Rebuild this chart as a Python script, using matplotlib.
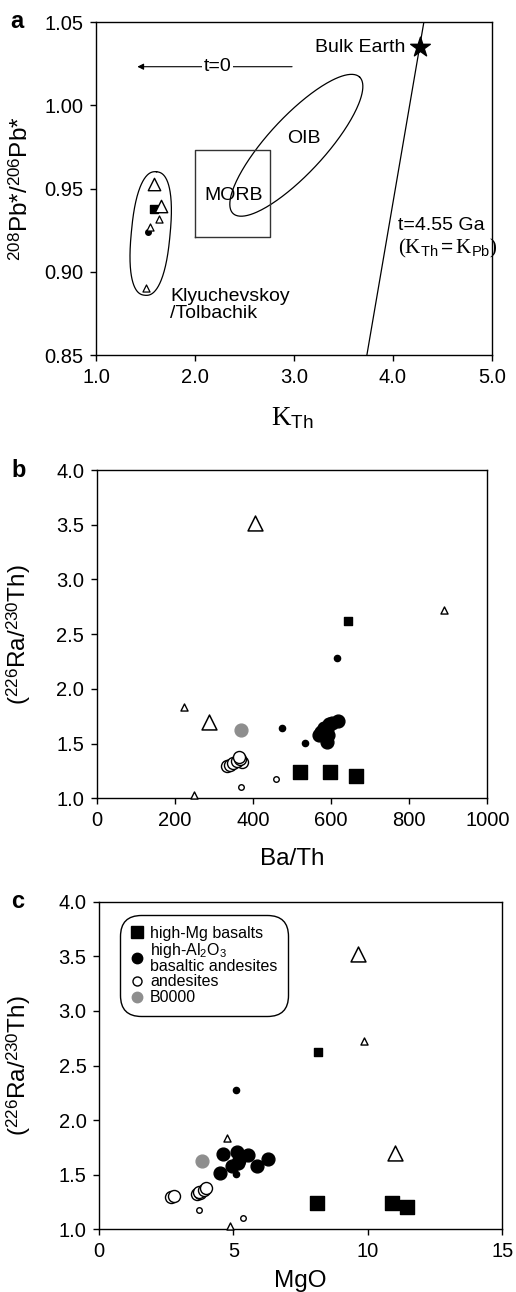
import numpy as np
import matplotlib
matplotlib.use("Agg")
from matplotlib import pyplot as plt
from matplotlib.lines import Line2D

plt.rcParams['font.family'] = ['Liberation Sans', 'DejaVu Sans']
plt.rcParams['mathtext.fontset'] = 'custom'
plt.rcParams['mathtext.rm'] = 'Liberation Serif'
plt.rcParams['mathtext.sf'] = 'Liberation Sans'
plt.rcParams['mathtext.it'] = 'Liberation Serif:italic'
plt.rcParams['mathtext.bf'] = 'Liberation Serif:bold'

# ---- panel a data ----
a_tri_big_x = [1.59, 1.656]
a_tri_big_y = [0.9525, 0.9395]
a_tri_small_x = [1.632, 1.542, 1.505]
a_tri_small_y = [0.9315, 0.927, 0.890]
a_sq_x = [1.59]
a_sq_y = [0.938]
a_dot_x = [1.525]
a_dot_y = [0.9237]
bulk_earth = (4.277, 1.035)
geochron_x = [3.738, 4.314]
geochron_y = [0.85, 1.05]
morb_box = (2.0, 2.76, 0.921, 0.973)

# ---- panels b and c data (Ba/Th, MgO, Ra/Th) ----
hmg_bath = [520, 597, 664]
hmg_mgo = [8.09, 10.88, 11.47]
hmg_ra = [1.242, 1.238, 1.202]
hmg_s_bath = [644]
hmg_s_mgo = [8.16]
hmg_s_ra = [2.62]

hal_bath = [617, 603, 595, 583, 590, 575, 570, 592, 590]
hal_mgo = [5.12, 4.62, 5.55, 6.30, 5.22, 5.18, 4.93, 5.89, 4.50]
hal_ra = [1.710, 1.689, 1.680, 1.641, 1.634, 1.605, 1.580, 1.580, 1.513]
hal_s_bath = [616, 475, 532]
hal_s_mgo = [5.09, 5.25, 5.09]
hal_s_ra = [2.279, 1.646, 1.503]

and_bath = [333, 340, 350, 372, 360, 368, 365]
and_mgo = [2.67, 2.79, 3.63, 3.75, 3.73, 3.90, 3.98]
and_ra = [1.299, 1.308, 1.320, 1.330, 1.345, 1.360, 1.375]
and_s_bath = [460, 369.5]
and_s_mgo = [3.72, 5.37]
and_s_ra = [1.177, 1.105]

b0_bath = [369.5]
b0_mgo = [3.82]
b0_ra = [1.628]

tri_bath = [405, 288]
tri_mgo = [9.64, 11.01]
tri_ra = [3.52, 1.697]
tri_s_bath = [890, 223.5, 249]
tri_s_mgo = [9.85, 4.77, 4.87]
tri_s_ra = [2.72, 1.838, 1.03]

gray = '#8e8e8e'
TICK = 14.5
LAB = 17.5

fig = plt.figure(figsize=(5.16, 12.92), dpi=100)
ax1 = fig.add_axes([0.186, 0.7252, 0.767, 0.2577])
ax2 = fig.add_axes([0.1874, 0.3821, 0.757, 0.2541])
ax3 = fig.add_axes([0.1919, 0.0485, 0.7816, 0.2536])

for ax in (ax1, ax2, ax3):
    ax.tick_params(direction='out', length=4, width=1, labelsize=TICK, pad=5)
    for s in ax.spines.values():
        s.set_linewidth(1)

# ---------- a ----------
ax1.set_xlim(1, 5)
ax1.set_ylim(0.85, 1.05)
ax1.set_xticks(np.arange(1, 5.01, 1.0))
ax1.set_xticklabels(['%.1f' % v for v in np.arange(1, 5.01, 1.0)])
ax1.set_yticks(np.arange(0.85, 1.0501, 0.05))
ax1.set_yticklabels(['%.2f' % v for v in np.arange(0.85, 1.0501, 0.05)])

# Kly/Tol field (rounded elongated shape)
t = np.linspace(0, 2 * np.pi, 300)
n = 2.4
c = np.cos(t); s = np.sin(t)
cu = np.sign(c) * np.abs(c) ** (2 / n)
sv = np.sign(s) * np.abs(s) ** (2 / n)
kx = 1.553 + 0.059 * cu + 0.195 * sv
ky = 0.923 + 0.0371 * cu - 0.0011 * sv
ax1.plot(kx, ky, color='k', lw=0.9)

# OIB ellipse
ox = 3.025 + 0.639 * c + 0.209 * s
oy = 0.976 + 0.041 * c - 0.0116 * s
ax1.plot(ox, oy, color='k', lw=0.9)

x0, x1, y0, y1 = morb_box
ax1.plot([x0, x1, x1, x0, x0], [y0, y0, y1, y1, y0], color='#333333', lw=1)

ax1.plot(geochron_x, geochron_y, color='k', lw=0.9)

ax1.scatter(a_sq_x, a_sq_y, marker='s', s=26, color='k', zorder=3)
ax1.scatter(a_dot_x, a_dot_y, marker='o', s=16, color='k', zorder=3)
ax1.scatter(a_tri_small_x, a_tri_small_y, marker='^', s=26, facecolor='white', edgecolor='k', lw=0.9, zorder=4)
ax1.scatter(a_tri_big_x, a_tri_big_y, marker='^', s=80, facecolor='white', edgecolor='k', lw=1.0, zorder=4)
ax1.scatter([bulk_earth[0]], [bulk_earth[1]], marker='*', s=220, color='k', zorder=5)

ax1.annotate('', xy=(1.39, 1.0232), xytext=(3.01, 1.0232),
             arrowprops=dict(arrowstyle='-|>', lw=0.8, color='k', mutation_scale=9))
ax1.text(2.23, 1.0232, 't=0', fontsize=14, ha='center', va='center',
         bbox=dict(facecolor='white', edgecolor='none', pad=1))
ax1.text(3.21, 1.035, 'Bulk Earth', fontsize=14, ha='left', va='center')
ax1.text(3.10, 0.980, 'OIB', fontsize=14, ha='center', va='center')
ax1.text(2.39, 0.946, 'MORB', fontsize=14, ha='center', va='center')
ax1.text(1.747, 0.880, 'Klyuchevskoy\n/Tolbachik', fontsize=14, ha='left', va='center',
         linespacing=0.95)
ax1.text(4.05, 0.928, 't=4.55 Ga', fontsize=14, ha='left', va='center')
ax1.text(4.05, 0.914, r'$(\mathrm{K}_{\mathsf{Th}}\mathsf{=}\mathrm{K}_{\mathsf{Pb}})$', fontsize=15,
         ha='left', va='center')

ax1.set_xlabel(r'$\mathrm{K}_{\mathsf{Th}}$', fontsize=LAB + 2)
ax1.xaxis.set_label_coords(0.497, -0.15)
ax1.set_ylabel(r'$^{\mathsf{208}}$Pb*/$^{\mathsf{206}}$Pb*', fontsize=LAB)
ax1.yaxis.set_label_coords(-0.159, 0.5)


def draw_groups(ax, key):
    d = {'b': (hmg_bath, hmg_s_bath, hal_bath, hal_s_bath, and_bath, and_s_bath, b0_bath, tri_bath, tri_s_bath),
         'c': (hmg_mgo, hmg_s_mgo, hal_mgo, hal_s_mgo, and_mgo, and_s_mgo, b0_mgo, tri_mgo, tri_s_mgo)}[key]
    hx, hsx, ax_, asx, nx, nsx, bx, tx, tsx = d
    kw = dict(clip_on=False)
    ax.scatter(tx, tri_ra, marker='^', s=115, facecolor='white', edgecolor='k', lw=1.1, zorder=3, **kw)
    ax.scatter(tsx, tri_s_ra, marker='^', s=26, facecolor='white', edgecolor='k', lw=1.0, zorder=3, **kw)
    ax.scatter(hx, hmg_ra, marker='s', s=100, color='k', zorder=3, **kw)
    ax.scatter(hsx, hmg_s_ra, marker='s', s=26, color='k', zorder=3, **kw)
    ax.scatter(nx, and_ra, marker='o', s=75, facecolor='white', edgecolor='k', lw=1.0, zorder=3, **kw)
    ax.scatter(nsx, and_s_ra, marker='o', s=16, facecolor='white', edgecolor='k', lw=1.0, zorder=3, **kw)
    ax.scatter(asx, hal_s_ra, marker='o', s=20, color='k', zorder=3, **kw)
    ax.scatter(ax_, hal_ra, marker='o', s=85, color='k', zorder=3, **kw)
    ax.scatter(bx, b0_ra, marker='o', s=85, color=gray, zorder=3, **kw)


# ---------- b ----------
ax2.set_xlim(0, 1000)
ax2.set_ylim(1.0, 4.0)
ax2.set_xticks(np.arange(0, 1001, 200))
ax2.set_yticks(np.arange(1.0, 4.01, 0.5))
ax2.set_yticklabels(['%.1f' % v for v in np.arange(1.0, 4.01, 0.5)])
draw_groups(ax2, 'b')
ax2.set_xlabel('Ba/Th', fontsize=LAB)
ax2.xaxis.set_label_coords(0.5, -0.151)
ax2.set_ylabel(r'($^{\mathsf{226}}$Ra/$^{\mathsf{230}}$Th)', fontsize=LAB)
ax2.yaxis.set_label_coords(-0.163, 0.5)

# ---------- c ----------
ax3.set_xlim(0, 15)
ax3.set_ylim(1.0, 4.0)
ax3.set_xticks([0, 5, 10, 15])
ax3.set_yticks(np.arange(1.0, 4.01, 0.5))
ax3.set_yticklabels(['%.1f' % v for v in np.arange(1.0, 4.01, 0.5)])
draw_groups(ax3, 'c')
ax3.set_xlabel('MgO', fontsize=LAB)
ax3.xaxis.set_label_coords(0.5, -0.124)
ax3.set_ylabel(r'($^{\mathsf{226}}$Ra/$^{\mathsf{230}}$Th)', fontsize=LAB)
ax3.yaxis.set_label_coords(-0.164, 0.5)

handles = [
    Line2D([], [], marker='s', ls='none', color='k', markersize=8),
    Line2D([], [], marker='o', ls='none', color='k', markersize=7.5),
    Line2D([], [], marker='o', ls='none', markerfacecolor='white', markeredgecolor='k', markersize=6.5),
    Line2D([], [], marker='o', ls='none', color=gray, markersize=7.5),
]
labels = ['high-Mg basalts', 'high-Al$_{\\mathsf{2}}$O$_{\\mathsf{3}}$\nbasaltic andesites', 'andesites', 'B0000']
leg = ax3.legend(handles, labels, loc='upper left', bbox_to_anchor=(0.065, 0.944), borderaxespad=0,
                 fontsize=11.5, frameon=True, fancybox=True, handlelength=0.8, handletextpad=0.4,
                 labelspacing=0.05, borderpad=0.35, framealpha=1)
leg.get_frame().set_edgecolor('k')
leg.get_frame().set_linewidth(1)
leg.get_frame().set_boxstyle('round,pad=0.3,rounding_size=1.3')
for tx in leg.get_texts():
    tx.set_linespacing(0.85)

# panel letters
fig.text(0.02, 0.983, 'a', fontsize=17, fontweight='bold', va='center', ha='left')
fig.text(0.022, 0.636, 'b', fontsize=17, fontweight='bold', va='center', ha='left')
fig.text(0.022, 0.302, 'c', fontsize=17, fontweight='bold', va='center', ha='left')

fig.savefig('out.png', dpi=100)
